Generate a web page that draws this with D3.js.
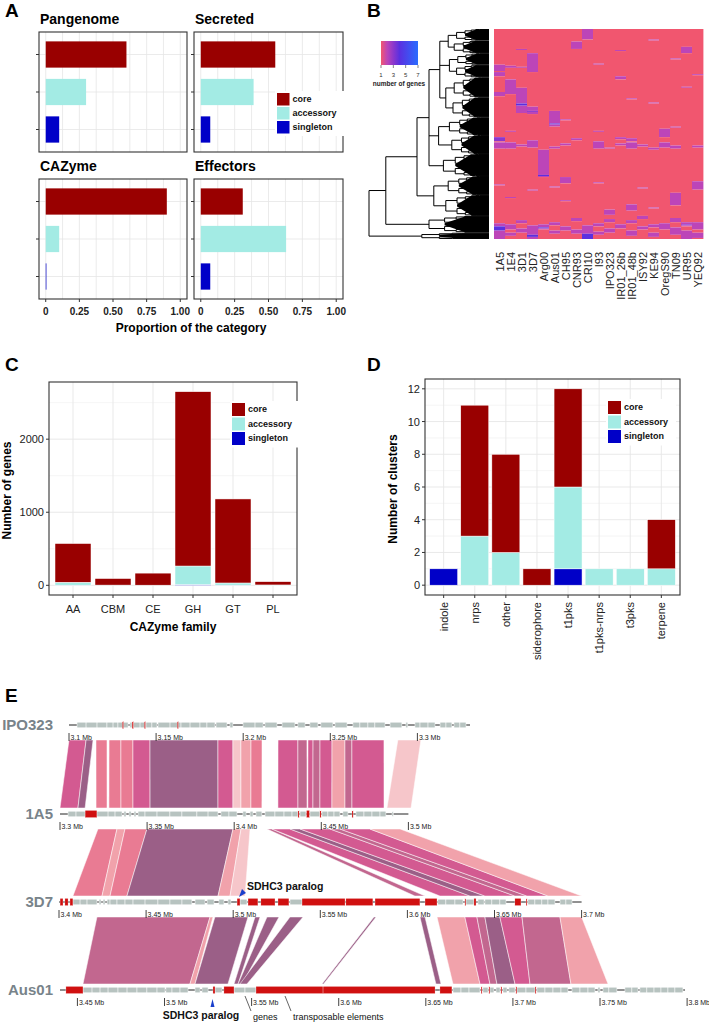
<!DOCTYPE html>
<html><head><meta charset="utf-8">
<script src="https://cdn.jsdelivr.net/npm/d3@7"></script>
<style>body{margin:0;background:#fff}svg{display:block}</style>
</head><body>
<script>
// ================= DATA =================
// shared groups
const groups = ['core','accessory','singleton'];
const groupColors = ['#990000','#a3ebe4','#0000c8'];

// Panel A
const aPanelNames = ['Pangenome','Secreted','CAZyme','Effectors'];
const aPangenome = [0.60,0.30,0.10];
const aSecreted  = [0.55,0.39,0.07];
const aCAZyme    = [0.90,0.10,0.005];
const aEffectors = [0.31,0.63,0.07];
const aTicks = [0,0.25,0.5,0.75,1];
const aTickLabels = ['0','0.25','0.50','0.75','1.00'];

// Panel B
const bIsolates = ['1A5','1E4','3D1','3D7','Arg00','Aus01','CH95','CNR93','CRI10','I93','IPO323','IR01_26b','IR01_48b','ISY92','KE94','OregS90','TN09','UR95','YEQ92'];
const bRows = 200;            // orthogroups (rows) in heatmap
const bBaseValue = 1;         // most cells: 1 gene
// [column, firstRow, lastRow, number of genes]
const bBlocks = [
 [8,0,9,2],[14,10,10,2],[7,12,18,2],[17,17,22,2],[2,19,19,2],[11,20,20,2],
 [3,23,40,2],[0,34,39,2],[1,35,36,2],[2,36,36,2],[9,33,33,2],[16,28,28,2],
 [0,41,44,2],[11,45,47,2],[18,43,43,2],
 [1,48,61,2],[0,60,63,2],[2,56,79,2],[2,71,72,4],[3,74,80,2],[3,78,78,3],[17,55,55,2],[12,66,66,2],
 [5,78,92,2],[5,90,90,4],[14,70,70,2],[6,86,86,2],
 [15,95,102,2],[1,97,97,2],[9,97,97,2],[16,93,93,2],
 [0,103,106,3],[12,104,106,2],[7,104,105,2],[11,103,104,2],
 [0,108,113,2],[1,108,113,2],[3,106,112,2],[6,109,110,2],[9,107,113,2],[12,108,113,2],[13,110,111,2],
 [14,113,114,2],[15,108,112,2],[16,111,113,2],[18,111,112,2],[2,110,111,2],[11,109,110,2],[5,112,113,2],[10,113,113,2],
 [4,115,140,2],[4,139,139,4],
 [6,141,146,2],[18,145,152,2],[0,148,148,2],[5,150,150,2],[9,146,146,2],[3,153,153,2],[13,151,151,2],
 [16,156,167,2],[12,167,172,2],[10,172,176,2],[14,170,170,2],[6,163,163,2],[1,160,160,2],
 [0,185,199,2],[0,188,191,4],[1,186,190,2],[1,194,196,2],[2,182,184,2],[2,190,193,2],[3,187,199,2],[3,196,197,4],
 [4,186,190,2],[4,189,189,4],[5,184,186,2],[5,192,194,2],[6,188,191,2],[7,180,182,2],[7,191,194,2],
 [8,187,199,2],[8,195,199,4],[9,185,187,2],[9,193,195,2],[10,181,183,2],[10,190,193,2],[11,186,189,2],
 [12,182,184,2],[12,192,196,2],[13,178,180,2],[13,188,190,2],[14,186,188,2],[14,194,197,2],[15,185,190,2],
 [16,180,183,2],[16,189,195,2],[17,184,187,2],[17,192,199,2],[17,186,186,3],[18,184,190,2],[18,194,198,2]
];
const bLegendTicks = [1,3,5,7];
// dendrogram: internal nodes {h, c}, leaf clades {h, g:[firstRow,lastRow]}
const bDendro = {h:1.0, c:[
  {h:0.86, c:[
    {h:0.60, c:[
      {h:0.50, c:[
        {h:0.41, c:[
          {h:0.34, c:[{h:0.27,g:[0,10]},{h:0.29,g:[11,22]}]},
          {h:0.33, c:[{h:0.26,g:[23,33]},{h:0.27,g:[34,45]}]},
          {h:0.36, c:[{h:0.29,g:[46,64]},{h:0.30,g:[65,83]}]}
        ]},
        {h:0.42, c:[{h:0.33,g:[84,100]},{h:0.31,g:[101,118]}]},
        {h:0.38, g:[119,139]}
      ]},
      {h:0.46, c:[{h:0.34,g:[140,157]},{h:0.36,g:[158,177]}]}
    ]},
    {h:0.50, g:[178,193]}
  ]},
  {h:0.56, g:[194,199]}
]};

// Panel C
const cFamilies = ['AA','CBM','CE','GH','GT','PL'];
const cCore      = [530,90,165,2386,1150,45];
const cAccessory = [40,3,2,254,30,5];
const cSingleton = [2,0,0,10,2,0];
const cYTicks = [0,1000,2000];

// Panel D
const dTypes = ['indole','nrps','other','siderophore','t1pks','t1pks-nrps','t3pks','terpene'];
const dCore      = [0,8,6,1,6,0,0,3];
const dAccessory = [0,3,2,0,5,1,1,1];
const dSingleton = [1,0,0,0,1,0,0,0];
const dYTicks = [0,2,4,6,8,10,12];

// Panel E (positions in kb)
const eTracks = ['IPO323','1A5','3D7','Aus01'];
const eTrackStart = [3100,3300,3400,3440];
const eTrackEnd   = [3330.2,3500,3700,3798.8];
const eTicks = [[3100,3150,3200,3250,3300],[3300,3350,3400,3450,3500],
  [3400,3450,3500,3550,3600,3650,3700],[3450,3500,3550,3600,3650,3700,3750,3800]];
const eGenesIPO323 = [[3104.6,3109.8],[3109.8,3116.1],[3116.1,3121.8],[3121.8,3125.3],[3125.3,3128.1],[3128.1,3133.9],
 [3135.0,3136.2],[3136.9,3140.8],[3140.8,3144.2],[3144.2,3147.6],[3147.6,3150.5],
 [3151.1,3158.0],[3158.0,3164.3],[3164.3,3169.5],[3169.5,3175.2],[3175.2,3179.2],[3179.2,3183.8],
 [3184.4,3190.7],[3192.4,3194.1],[3199.9,3206.8],[3206.8,3211.4],[3212.5,3219.4],[3222.3,3229.7],
 [3231.4,3235.5],[3238.3,3242.9],[3244.6,3251.5],[3252.7,3259.6],[3263.0,3267.0],[3267.0,3271.6],
 [3271.6,3275.6],[3275.6,3281.4],[3284.3,3291.1],[3293.4,3294.5],[3298.6,3301.5],[3301.5,3306.1],
 [3306.1,3310.1],[3313.0,3316.4],[3316.4,3319.8],[3321.0,3324.4],[3324.4,3327.9]];
const eTEsIPO323 = [[3130.6,3131.3],[3136.2,3137.0],[3143.2,3143.9],[3162.1,3162.8]];
const eGenes1A5 = [[3304.6,3309.2],[3309.2,3314.4],[3321.2,3327.6],[3327.6,3331.6],[3331.6,3335.6],
 [3336.7,3337.9],[3339.6,3340.8],[3342.5,3343.6],[3344.8,3348.8],[3348.8,3355.7],[3355.7,3363.1],
 [3363.1,3370.0],[3370.0,3378.6],[3378.6,3385.0],[3385.0,3390.7],[3392.4,3397.0],[3397.0,3401.6],
 [3405.0,3406.8],[3409.1,3410.8],[3412.5,3415.9],[3417.7,3423.4],[3423.4,3428.6],[3428.6,3433.2],
 [3433.2,3436.6],[3437.8,3441.2],[3443.5,3449.2],[3450.4,3453.8],[3453.8,3457.3],[3457.3,3460.7],
 [3462.4,3465.3],[3469.9,3474.5],[3474.5,3479.1],[3479.1,3483.7],[3483.7,3487.1],[3490.6,3491.3]];
const eTEs1A5 = [[3314.4,3321.2],[3436.6,3437.3],[3441.5,3443.2],[3449.2,3449.9],[3467.6,3468.3]];
const eGenes3D7 = [[3408.0,3412.1],[3412.1,3416.1],[3416.1,3421.8],[3423.0,3424.1],[3425.3,3426.4],
 [3427.6,3429.3],[3429.3,3433.3],[3433.3,3437.9],[3437.9,3442.5],[3442.5,3449.4],[3449.4,3456.8],
 [3456.8,3463.7],[3463.7,3470.6],[3470.6,3476.3],[3478.1,3483.8],[3485.0,3489.0],[3491.8,3494.7],
 [3497.0,3498.7],[3503.9,3507.9],[3532.6,3539.5],[3617.5,3622.1],[3622.1,3627.3],[3627.3,3631.9],
 [3633.6,3638.2],[3640.5,3644.0],[3644.5,3648.5],[3648.5,3653.1],[3653.1,3656.6],[3669.2,3673.2],
 [3673.2,3677.2],[3677.2,3680.7],[3680.7,3684.7],[3687.6,3691.0],[3691.0,3694.5]];
const eTEs3D7 = [[3400.6,3402.3],[3403.4,3405.2],[3406.3,3408.0],[3502.2,3503.9],[3508.5,3514.2],
 [3515.9,3524.0],[3525.7,3532.0],[3539.5,3564.2],[3564.7,3580.2],[3581.4,3607.2],[3610.1,3617.0],
 [3633.0,3633.6],[3638.2,3639.4],[3661.7,3665.2],[3668.1,3668.7]];
const eGenesAus01 = [[3453.2,3458.4],[3458.4,3463.0],[3463.0,3467.6],[3467.6,3473.3],[3473.3,3478.5],
 [3478.5,3484.2],[3484.2,3489.9],[3489.9,3495.7],[3495.7,3500.3],[3500.8,3504.3],[3504.3,3508.9],
 [3508.9,3513.5],[3517.5,3520.4],[3521.5,3525.0],[3529.0,3533.0],[3539.9,3546.2],[3546.2,3552.5],
 [3665.6,3670.2],[3670.2,3674.8],[3674.8,3681.1],[3682.8,3685.7],[3686.8,3689.1],[3690.3,3692.6],
 [3694.3,3696.6],[3697.7,3701.2],[3702.3,3707.5],[3707.5,3712.7],[3713.8,3718.4],[3718.4,3723.0],
 [3723.0,3727.6],[3727.6,3731.6],[3733.9,3738.5],[3738.5,3743.1],[3743.1,3747.1],[3748.8,3750.0],
 [3751.7,3755.1],[3755.1,3759.7],[3764.3,3768.3],[3768.3,3771.8],[3772.9,3776.9],[3776.9,3781.0],
 [3781.0,3785.0],[3785.0,3789.0],[3789.0,3793.0],[3793.0,3797.6]];
const eTEsAus01 = [[3443.4,3453.2],[3527.8,3529.0],[3534.1,3539.9],[3552.5,3591.0],[3591.0,3655.3],
 [3658.1,3665.0],[3681.7,3682.3],[3686.2,3686.8],[3693.1,3693.7],[3701.7,3702.3],[3712.7,3713.3]];
// synteny ribbons: [startA, endA, startB, endB, colour class]
const eRibbonsIPO323_1A5 = [
 [3100.0,3109.8,3300.0,3310.3,'pink'],[3109.8,3113.8,3310.3,3314.4,'mauve'],
 [3115.5,3121.8,3320.7,3327.0,'salmon'],[3123.0,3129.8,3328.1,3335.0,'salmon'],
 [3129.8,3136.7,3335.0,3341.9,'salmon'],[3136.7,3146.5,3341.9,3351.7,'pink'],
 [3146.5,3185.5,3351.7,3390.7,'mauve'],[3185.5,3194.1,3390.7,3399.3,'pink'],
 [3194.1,3198.7,3399.3,3403.9,'pale'],[3198.7,3204.5,3403.9,3409.6,'light'],
 [3204.5,3210.8,3409.6,3415.9,'salmon'],[3220.0,3231.4,3425.1,3436.6,'pink'],
 [3231.4,3236.6,3436.6,3441.8,'rose'],[3237.2,3240.1,3442.3,3445.2,'pink'],
 [3240.1,3244.1,3445.2,3449.2,'rose'],[3244.1,3251.0,3449.2,3456.1,'pink'],
 [3251.0,3258.4,3456.1,3463.6,'light'],[3258.4,3262.4,3463.6,3467.6,'rose'],
 [3262.4,3280.8,3467.6,3486.0,'pink'],[3288.8,3302.0,3487.7,3501.5,'pale']];
const eRibbons1A5_3D7 = [
 [3321.8,3332.7,3408.0,3424.7,'salmon'],[3332.7,3337.3,3424.7,3429.3,'light'],
 [3337.3,3349.9,3429.3,3439.0,'salmon'],[3349.9,3399.3,3439.0,3491.3,'mauve'],
 [3399.3,3403.9,3491.3,3498.2,'light'],[3403.9,3409.1,3498.2,3506.8,'pale'],
 [3418.8,3421.7,3604.3,3610.1,'rose'],[3421.7,3432.0,3618.7,3635.9,'pink'],
 [3432.0,3437.8,3635.9,3644.5,'mauve'],[3437.8,3455.0,3644.5,3661.7,'pink'],
 [3455.0,3460.7,3661.7,3668.6,'rose'],[3460.7,3477.9,3668.6,3680.7,'pink'],
 [3477.9,3495.2,3680.7,3700.0,'light']];
const eRibbons3D7_Aus01 = [
 [3421.8,3486.7,3453.2,3514.6,'rose'],[3486.7,3488.4,3514.6,3517.5,'light'],
 [3489.5,3508.5,3517.5,3536.4,'mauve'],[3512.5,3515.4,3539.9,3542.2,'mauve'],
 [3519.4,3526.3,3542.2,3544.5,'mauve'],[3532.6,3540.1,3543.3,3547.3,'mauve'],
 [3580.8,3582.0,3590.4,3591.3,'mauve'],[3607.2,3610.1,3655.8,3658.7,'mauve'],
 [3617.0,3633.0,3665.6,3681.1,'light'],[3633.0,3639.9,3681.1,3686.8,'pink'],
 [3639.9,3644.5,3686.8,3690.8,'rose'],[3644.5,3653.1,3690.8,3701.2,'mauve'],
 [3653.1,3665.8,3701.2,3709.8,'pink'],[3665.8,3687.6,3709.8,3733.3,'rose'],
 [3687.6,3700.0,3733.3,3754.6,'light']];

// ================= DRAWING =================
const F = '"Liberation Sans", Arial, Helvetica, sans-serif';
const svg = d3.select('body').append('svg').attr('width',709).attr('height',1024);
svg.append('rect').attr('width',709).attr('height',1024).attr('fill','#fff');
function txt(g,x,y,s,o={}){
  const t=g.append('text').attr('x',x).attr('y',y).text(s).attr('font-family',F)
    .attr('font-size',o.size||11).attr('font-weight',o.bold?'bold':'normal').attr('fill',o.fill||'#1a1a1a');
  if(o.anchor) t.attr('text-anchor',o.anchor);
  if(o.rot) t.attr('transform',`rotate(${o.rot},${x},${y})`);
  return t;
}
// panel letters
[['A',5,17],['B',367,17],['C',5,371],['D',367,371],['E',5,702]].forEach(([l,x,y])=>txt(svg,x,y,l,{size:19,bold:true,fill:'#000'}));
const GRID='#e6e6e6', BORDER='#333';

function legend(g,x,y,step,size,fs){
  g.append('rect').attr('x',x-2).attr('y',y-2).attr('width',70).attr('height',step*3+3).attr('fill','#fff');
  groups.forEach((k,i)=>{
    g.append('rect').attr('x',x).attr('y',y+i*step).attr('width',size).attr('height',size).attr('fill',groupColors[i]);
    txt(g,x+size+3,y+i*step+size*0.72,k,{size:fs,bold:true,fill:'#111'});
  });
}

// ---------- Panel A ----------
(function(){
  const data=[aPangenome,aSecreted,aCAZyme,aEffectors];
  const boxes=[[39,187,32,152],[194,343,32,152],[39,187,179,299],[194,343,179,299]];
  const g=svg.append('g');
  boxes.forEach((b,pi)=>{
    const [x0,x1,y0,y1]=b;
    const x=d3.scaleLinear().domain([-0.05,1.05]).range([x0,x1]);
    const y=d3.scalePoint().domain(groups).range([y0,y1]).padding(0.6);
    const minor=d3.pairs(aTicks).map(p=>(p[0]+p[1])/2);
    g.selectAll(null).data(aTicks.concat(minor)).join('line')
      .attr('x1',d=>x(d)).attr('x2',d=>x(d)).attr('y1',y0).attr('y2',y1).attr('stroke',GRID).attr('stroke-width',0.8);
    g.selectAll(null).data(groups).join('line')
      .attr('x1',x0).attr('x2',x1).attr('y1',d=>y(d)).attr('y2',d=>y(d)).attr('stroke',GRID).attr('stroke-width',0.8);
    const bh=0.7*y.step();
    g.selectAll(null).data(data[pi]).join('rect')
      .attr('x',x(0)).attr('y',(d,i)=>y(groups[i])-bh/2).attr('width',d=>x(d)-x(0)).attr('height',bh)
      .attr('fill',(d,i)=>groupColors[i]);
    g.append('rect').attr('x',x0).attr('y',y0).attr('width',x1-x0).attr('height',y1-y0)
      .attr('fill','none').attr('stroke',BORDER).attr('stroke-width',1.1);
    g.selectAll(null).data(groups).join('line')
      .attr('x1',x0-3).attr('x2',x0).attr('y1',d=>y(d)).attr('y2',d=>y(d)).attr('stroke',BORDER);
    txt(g,x0+1,y0-8,aPanelNames[pi],{size:14,bold:true,fill:'#000'});
    if(pi>=2){
      aTicks.forEach((t,i)=>{
        g.append('line').attr('x1',x(t)).attr('x2',x(t)).attr('y1',y1).attr('y2',y1+3).attr('stroke',BORDER);
        txt(g,x(t),y1+16,aTickLabels[i],{size:10,bold:true,anchor:'middle',fill:'#222'});
      });
    }
  });
  txt(g,191,332,'Proportion of the category',{size:12,bold:true,anchor:'middle',fill:'#000'});
  legend(g,277,93,14,12.5,9);
})();

// ---------- Panel B ----------
(function(){
  const g=svg.append('g');
  const hx0=494,hx1=703,hy0=29,hy1=239;
  const x=d3.scaleBand().domain(bIsolates).range([hx0,hx1]);
  const y=d3.scaleBand().domain(d3.range(bRows)).range([hy0,hy1]);
  const color=d3.scaleLinear().domain([1,2,3,4,7]).range(['#f1566f','#bc45b8','#8c37cc','#5a30e0','#2a6cff']);
  const matrix=d3.range(bRows).map(()=>bIsolates.map(()=>bBaseValue));
  bBlocks.forEach(([c,r0,r1,v])=>{for(let r=r0;r<=r1;r++) matrix[r][c]=v;});
  // merge consecutive equal cells of a column into runs
  const runs=[];
  bIsolates.forEach((s,c)=>{
    let r0=0;
    for(let r=1;r<=bRows;r++){
      if(r===bRows||matrix[r][c]!==matrix[r0][c]){runs.push({c,r0,r1:r-1,v:matrix[r0][c]});r0=r;}
    }
  });
  g.selectAll(null).data(runs).join('rect')
    .attr('x',d=>x(bIsolates[d.c])).attr('y',d=>y(d.r0))
    .attr('width',x.bandwidth()+0.4).attr('height',d=>y(d.r1)+y.bandwidth()-y(d.r0))
    .attr('fill',d=>color(d.v));
  // column labels
  bIsolates.forEach(s=>txt(g,x(s)+x.bandwidth()/2+4,252,s,{size:11,anchor:'end',rot:-90,fill:'#222'}));
  // dendrogram
  const hx=d3.scaleLinear().domain([0,1]).range([489,369]);
  const rowY=r=>y(r)+y.bandwidth()/2;
  let p='', wedges=[];
  function group(r0,r1,h){
    if(r0>=r1){p+=`M${hx(h)},${rowY(r0)}H${hx0-5}`;return rowY(r0);}
    const m=Math.floor((r0+r1)/2), hc=h*0.74;
    const ya=group(r0,m,hc), yb=group(m+1,r1,hc);
    p+=`M${hx(h)},${ya}V${yb}M${hx(h)},${ya}H${hx(hc)}M${hx(h)},${yb}H${hx(hc)}`;
    return (ya+yb)/2;
  }
  function node(n){
    if(n.g){
      const yc=(rowY(n.g[0])+rowY(n.g[1]))/2, ya=y(n.g[0])+0.5, yb=y(n.g[1])+y.bandwidth()-0.5;
      wedges.push([[hx(n.h*0.74),yc-1],[hx(n.h*0.4),ya],[hx0-5,ya],[hx0-5,yb],[hx(n.h*0.4),yb],[hx(n.h*0.74),yc+1]]);
      return group(n.g[0],n.g[1],n.h);
    }
    const ys=n.c.map(ch=>{const yy=node(ch);p+=`M${hx(n.h)},${yy}H${hx(ch.h)}`;return yy;});
    const a=d3.min(ys),b=d3.max(ys);
    p+=`M${hx(n.h)},${a}V${b}`;
    return (a+b)/2;
  }
  node(bDendro);
  g.selectAll(null).data(wedges).join('path').attr('d',d=>d3.line()(d)+'Z').attr('fill','#000');
  g.append('path').attr('d',p).attr('fill','none').attr('stroke','#000').attr('stroke-width',1);
  // legend
  const lx=d3.scaleLinear().domain([1,7]).range([381,418]);
  const defs=svg.append('defs');
  const grad=defs.append('linearGradient').attr('id','lg');
  d3.range(1,7.01,0.25).forEach(v=>grad.append('stop').attr('offset',(v-1)/6).attr('stop-color',color(v)));
  g.append('rect').attr('x',381).attr('y',41).attr('width',37).attr('height',24).attr('fill','url(#lg)');
  bLegendTicks.forEach(t=>{
    g.append('line').attr('x1',lx(t)).attr('x2',lx(t)).attr('y1',65).attr('y2',68).attr('stroke','#333').attr('stroke-width',0.6);
    txt(g,lx(t),77,String(t),{size:6,anchor:'middle',fill:'#333'});
  });
  txt(g,399,86,'number of genes',{size:6.5,bold:true,anchor:'middle',fill:'#222'});
})();

// ---------- stacked bar helper ----------
function stackedPanel(cfg){
  const g=svg.append('g');
  const [x0,x1,y0,y1]=cfg.box;
  const x=d3.scalePoint().domain(cfg.cats).range([x0,x1]).padding(0.6);
  const y=d3.scaleLinear().domain([-0.05*cfg.ymax,1.05*cfg.ymax]).range([y1,y0]);
  cfg.minor.forEach(v=>g.append('line').attr('x1',x0).attr('x2',x1).attr('y1',y(v)).attr('y2',y(v)).attr('stroke','#f0f0f0').attr('stroke-width',0.7));
  cfg.ticks.forEach(v=>g.append('line').attr('x1',x0).attr('x2',x1).attr('y1',y(v)).attr('y2',y(v)).attr('stroke',GRID).attr('stroke-width',0.9));
  cfg.cats.forEach(c=>g.append('line').attr('x1',x(c)).attr('x2',x(c)).attr('y1',y0).attr('y2',y1).attr('stroke',GRID).attr('stroke-width',0.9));
  const rows=cfg.cats.map((c,i)=>({cat:c,singleton:cfg.sing[i],accessory:cfg.acc[i],core:cfg.core[i]}));
  const st=d3.stack().keys(['singleton','accessory','core'])(rows);
  const bw=0.9*x.step();
  st.forEach(layer=>{
    const ci=groups.indexOf(layer.key);
    g.selectAll(null).data(layer.filter(d=>d[1]>d[0])).join('rect')
      .attr('x',d=>x(d.data.cat)-bw/2).attr('width',bw)
      .attr('y',d=>y(d[1])).attr('height',d=>y(d[0])-y(d[1]))
      .attr('fill',groupColors[ci]).attr('stroke','#fff').attr('stroke-width',0.5);
  });
  g.append('rect').attr('x',x0).attr('y',y0).attr('width',x1-x0).attr('height',y1-y0)
    .attr('fill','none').attr('stroke',BORDER).attr('stroke-width',1.1);
  cfg.ticks.forEach(v=>{
    g.append('line').attr('x1',x0-3).attr('x2',x0).attr('y1',y(v)).attr('y2',y(v)).attr('stroke',BORDER);
    txt(g,x0-5,y(v)+4,String(v),{size:11,anchor:'end',fill:'#222'});
  });
  cfg.cats.forEach(c=>{
    g.append('line').attr('x1',x(c)).attr('x2',x(c)).attr('y1',y1).attr('y2',y1+3).attr('stroke',BORDER);
    if(cfg.rotate) txt(g,x(c)+4,y1+7,c,{size:11,anchor:'end',rot:-90,fill:'#222'});
    else txt(g,x(c),y1+18,c,{size:11,anchor:'middle',fill:'#222'});
  });
  txt(g,cfg.ylabX,(y0+y1)/2+2,cfg.ylab,{size:12,bold:true,anchor:'middle',rot:-90,fill:'#000'});
  if(cfg.xlab) txt(g,(x0+x1)/2,cfg.xlabY,cfg.xlab,{size:12,bold:true,anchor:'middle',fill:'#000'});
  legend(g,cfg.leg[0],cfg.leg[1],14.5,13,9);
}
stackedPanel({cats:cFamilies,core:cCore,acc:cAccessory,sing:cSingleton,box:[49,297,382,595],ymax:2650,
  ticks:cYTicks,minor:[500,1500,2500],ylab:'Number of genes',ylabX:11,xlab:'CAZyme family',xlabY:631,leg:[232,403]});
stackedPanel({cats:dTypes,core:dCore,acc:dAccessory,sing:dSingleton,box:[425,680,379,595],ymax:12,
  ticks:dYTicks,minor:[1,3,5,7,9,11],ylab:'Number of clusters',ylabX:397,rotate:true,leg:[608,401]});

// ---------- Panel E ----------
(function(){
  const g=svg.append('g');
  const trackY=[725,814,902,990], trackX0=[69,60,59,60], pxPerKb=1.742;
  const sc=eTracks.map((t,i)=>d3.scaleLinear().domain([eTrackStart[i],eTrackEnd[i]])
      .range([trackX0[i],trackX0[i]+(eTrackEnd[i]-eTrackStart[i])*pxPerKb]));
  const rc={pink:'#d35a91',mauve:'#9b5f87',salmon:'#e97b93',light:'#f1a2ab',pale:'#f6c6ca',rose:'#c2678f'};
  const pairs=[[eRibbonsIPO323_1A5,0,1],[eRibbons1A5_3D7,1,2],[eRibbons3D7_Aus01,2,3]];
  pairs.forEach(([rib,a,b])=>{
    const yt=trackY[a]+15, yb=trackY[b]-6;
    g.selectAll(null).data(rib).join('path')
      .attr('d',d=>`M${sc[a](d[0])},${yt}L${sc[a](d[1])},${yt}L${sc[b](d[3])},${yb}L${sc[b](d[2])},${yb}Z`)
      .attr('fill',d=>rc[d[4]]).attr('stroke','#fff').attr('stroke-width',0.5);
  });
  const genes=[eGenesIPO323,eGenes1A5,eGenes3D7,eGenesAus01];
  const tes=[eTEsIPO323,eTEs1A5,eTEs3D7,eTEsAus01];
  eTracks.forEach((name,i)=>{
    const x=sc[i], ty=trackY[i];
    g.append('line').attr('x1',x(eTrackStart[i])).attr('x2',x(eTrackEnd[i])).attr('y1',ty).attr('y2',ty).attr('stroke','#222').attr('stroke-width',1);
    g.selectAll(null).data(genes[i]).join('rect').attr('x',d=>x(d[0])).attr('width',d=>x(d[1])-x(d[0]))
      .attr('y',ty-2.8).attr('height',5.6).attr('fill','#b7c3c0').attr('stroke','#fff').attr('stroke-width',0.5);
    g.selectAll(null).data(tes[i]).join('rect').attr('x',d=>x(d[0])).attr('width',d=>Math.max(0.9,x(d[1])-x(d[0])))
      .attr('y',ty-3.6).attr('height',7.2).attr('fill','#d01010').attr('stroke','#fff').attr('stroke-width',0.3);
    eTicks[i].forEach(t=>{
      g.append('line').attr('x1',x(t)).attr('x2',x(t)).attr('y1',ty+8).attr('y2',ty+16).attr('stroke','#111').attr('stroke-width',0.8);
      txt(g,x(t)+1.5,ty+15,d3.format('~g')(t/1000)+' Mb',{size:7,fill:'#222'});
    });
    txt(g,53,ty+5,name,{size:15,bold:true,anchor:'end',fill:'#78838a'});
  });
  // annotations
  g.append('path').attr('d','M239,897L242,889L246,893Z').attr('fill','#1a3fcc');
  txt(g,247,890,'SDHC3 paralog',{size:10.5,bold:true,fill:'#111'});
  g.append('path').attr('d','M212.5,999L210.5,1007L214.5,1007Z').attr('fill','#1a3fcc');
  txt(g,201,1019,'SDHC3 paralog',{size:10.5,bold:true,anchor:'middle',fill:'#111'});
  g.append('line').attr('x1',245).attr('y1',996).attr('x2',251).attr('y2',1011).attr('stroke','#222').attr('stroke-width',0.7);
  g.append('line').attr('x1',285).attr('y1',996).attr('x2',291).attr('y2',1011).attr('stroke','#222').attr('stroke-width',0.7);
  txt(g,253,1020,'genes',{size:9,fill:'#111'});
  txt(g,293,1020,'transposable elements',{size:9,fill:'#111'});
})();
</script>
</body></html>
